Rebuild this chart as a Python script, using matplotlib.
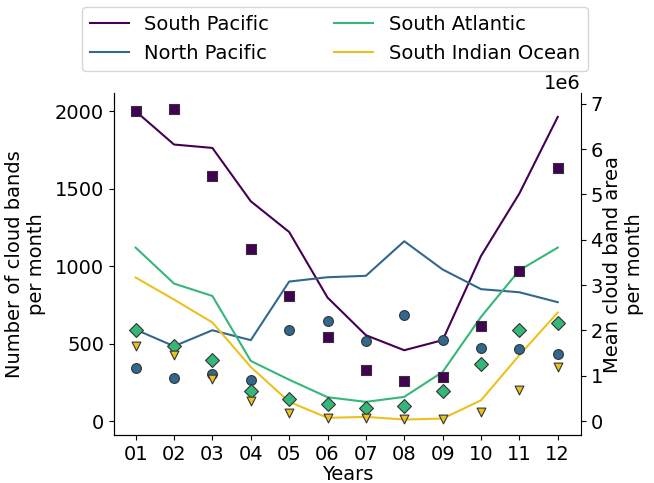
import numpy as np
import matplotlib
matplotlib.use("Agg")
import matplotlib.pyplot as plt

months = ["01", "02", "03", "04", "05", "06", "07", "08", "09", "10", "11", "12"]
regions = ["South Pacific", "North Pacific", "South Atlantic", "South Indian Ocean"]
colors = ["#440154", "#31688e", "#35b779", "#ecc11f"]
markers = ["s", "o", "D", "v"]

# number of cloud bands per month
count_sp = [2000, 1785, 1763, 1419, 1221, 798, 555, 458, 523, 1066, 1469, 1963]
count_np = [591, 484, 587, 523, 901, 929, 938, 1161, 979, 852, 832, 768]
count_sa = [1120, 888, 808, 389, 268, 155, 125, 157, 318, 673, 974, 1120]
count_si = [927, 785, 637, 350, 125, 22, 28, 11, 17, 135, 426, 701]

# mean cloud band area per month
area_sp = [6.83e6, 6.89e6, 5.41e6, 3.79e6, 2.75e6, 1.86e6, 1.12e6, 0.88e6, 0.98e6, 2.09e6, 3.31e6, 5.59e6]
area_np = [1.18e6, 0.95e6, 1.04e6, 0.90e6, 2.01e6, 2.21e6, 1.77e6, 2.34e6, 1.78e6, 1.62e6, 1.59e6, 1.48e6]
area_sa = [2.02e6, 1.66e6, 1.34e6, 0.66e6, 0.49e6, 0.37e6, 0.28e6, 0.33e6, 0.66e6, 1.25e6, 2.01e6, 2.17e6]
area_si = [1.65e6, 1.45e6, 0.93e6, 0.45e6, 0.18e6, 0.06e6, 0.07e6, 0.04e6, 0.04e6, 0.20e6, 0.68e6, 1.20e6]

counts = [count_sp, count_np, count_sa, count_si]
areas = [area_sp, area_np, area_sa, area_si]

plt.rcParams["font.size"] = 14

fig = plt.figure(figsize=(6.54, 4.83), dpi=100)
ax = fig.add_axes([0.174, 0.099, 0.714, 0.708])
ax2 = ax.twinx()

x = np.arange(len(months))
for c, col, lab in zip(counts, colors, regions):
    ax.plot(x, c, color=col, lw=1.5, label=lab)

sizes = [50, 50, 50, 40]
for a, col, m, s in zip(areas, colors, markers, sizes):
    ax2.scatter(x, a, color=col, marker=m, s=s, edgecolors="#333333", linewidths=0.8, zorder=3)

ax.set_xticks(x)
ax.set_xticklabels(months)
ax.set_xlim(-0.57, 11.6)
ax.set_ylim(-90, 2116)
ax.set_yticks([0, 500, 1000, 1500, 2000])
ax2.set_ylim(-0.31e6, 7.23e6)
ax2.set_yticks(np.arange(0, 8) * 1e6)

ax.set_xlabel("Years", labelpad=1)
ax.set_ylabel("Number of cloud bands\nper month", labelpad=6)
ax2.set_ylabel("Mean cloud band area\nper month", labelpad=0)

ax.spines["top"].set_visible(False)
ax.spines["right"].set_visible(False)
ax2.spines["top"].set_visible(False)

fig.legend(loc="upper center", bbox_to_anchor=(0.512, 1.005), ncol=2, fontsize=14,
           columnspacing=3.35)

fig.savefig("out.png", dpi=100)
